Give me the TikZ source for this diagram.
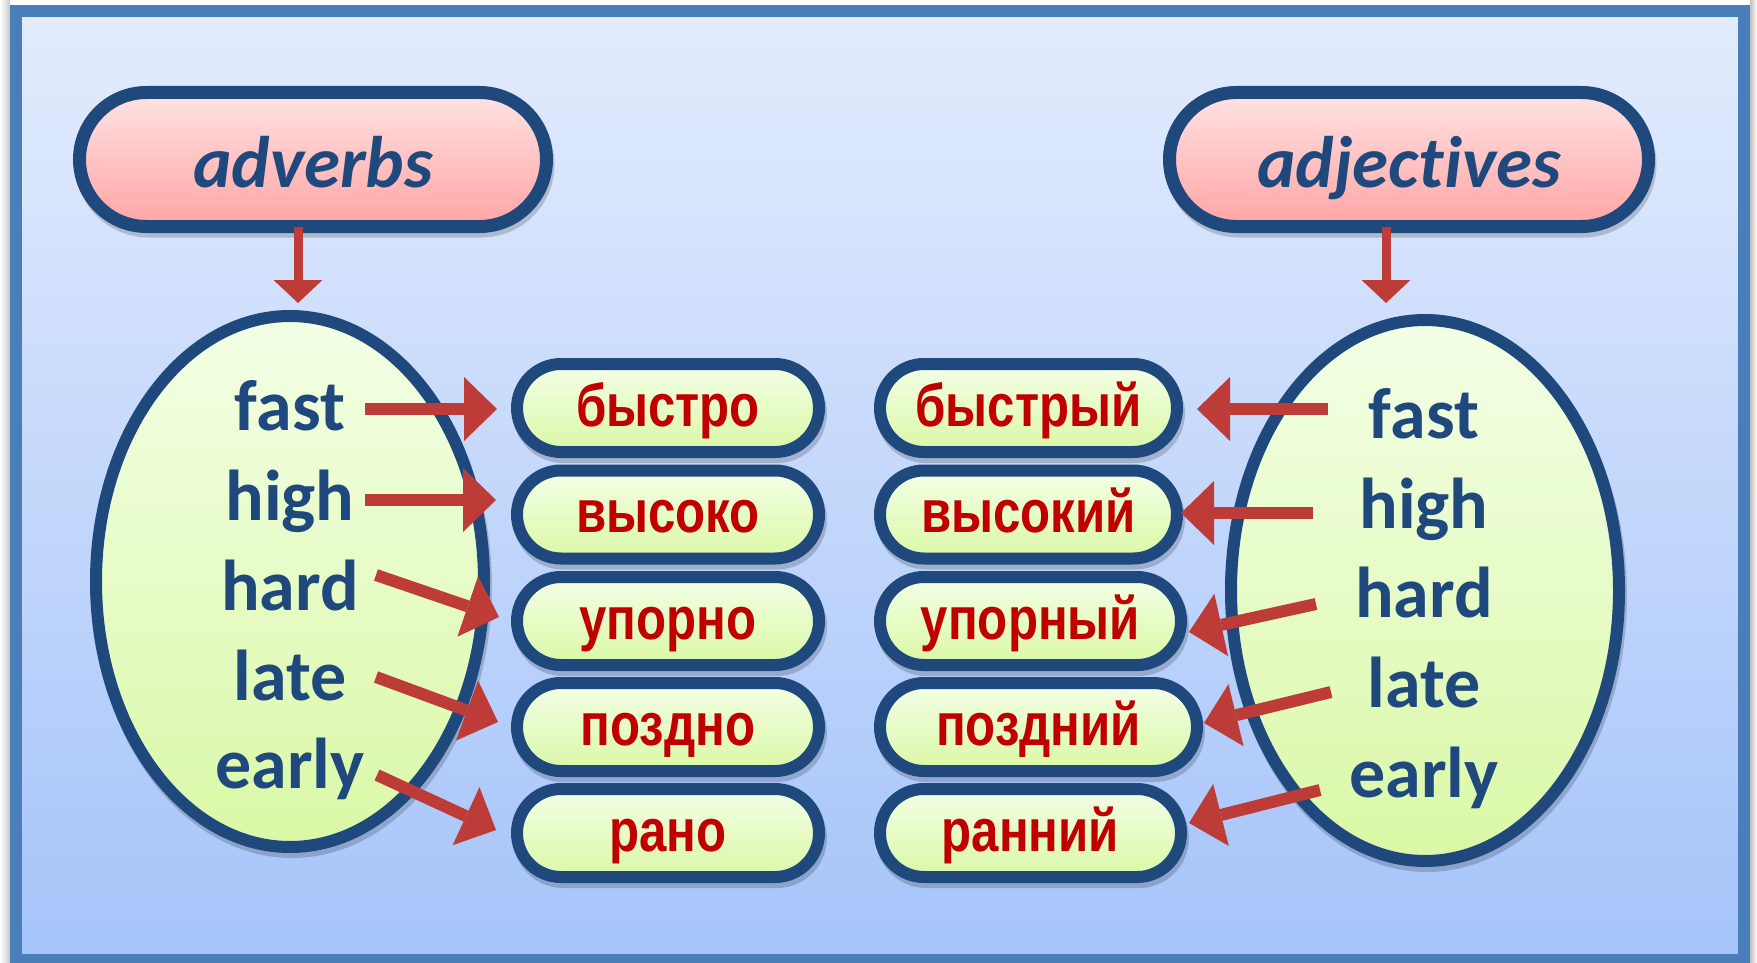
\documentclass[tikz,border=0pt]{standalone}
\usepackage{fontspec}
\setmainfont{Carlito}[Ligatures=NoCommon]
\newfontfamily\rufont[FakeStretch=0.82]{Liberation Sans}
\usetikzlibrary{shapes.geometric,shapes.misc,arrows.meta,calc,shadows}
\definecolor{navy}{HTML}{1F497D}
\definecolor{framec}{HTML}{4A7EBB}
\definecolor{bgtop}{HTML}{E3ECFD}
\definecolor{bgbot}{HTML}{A5C4FA}
\definecolor{pinktop}{HTML}{FFE3E3}
\definecolor{pinkbot}{HTML}{FFA4A4}
\definecolor{greentop}{HTML}{F3FFE6}
\definecolor{greenbot}{HTML}{DAF8A6}
\definecolor{arrowred}{HTML}{BE3C37}
\definecolor{rutext}{HTML}{C00000}
\begin{document}
\begin{tikzpicture}[x=0.5pt,y=-0.5pt,
  frame/.style={draw=framec, line width=6pt, top color=bgtop, bottom color=bgbot},
  shad/.style={drop shadow={shadow xshift=1pt, shadow yshift=-2.5pt, opacity=0.18, fill=black, draw=black, line width=6pt}},
  header/.style={shape=rounded rectangle, draw=navy, line width=6.5pt, top color=pinktop, bottom color=pinkbot,
     minimum height=67pt, inner sep=0pt, font=\fontsize{36.5}{40}\selectfont\bfseries\itshape, text=navy,
     text height=30pt, text depth=2.5pt, shad},
  oval/.style={shape=ellipse, draw=navy, line width=6pt, top color=greentop, bottom color=greenbot,
     inner sep=0pt, minimum width=194pt, shad},
  word/.style={anchor=base, inner sep=0pt, font=\fontsize{36}{40}\selectfont\bfseries, text=navy},
  rupill/.style={shape=rounded rectangle, draw=navy, line width=6pt, top color=greentop, bottom color=greenbot,
     minimum height=44pt, inner sep=0pt, font=\rufont\bfseries\fontsize{30}{34}\selectfont, text=rutext,
     text height=20pt, text depth=2pt, shad},
  bigarrow/.style={draw=arrowred, line width=6pt, -{Triangle[length=16.5pt, width=32pt, line width=0pt]}},
  downarrow/.style={draw=arrowred, line width=4.5pt, -{Triangle[length=11.5pt, width=24.5pt, line width=0pt]}},
]
\useasboundingbox (0,0) rectangle (1757,963);
% outer shadow strips and frame
\shade[left color=white, right color=black!22] (0,0) rectangle (10,963);
\shade[left color=black!25, right color=white] (1750,0) rectangle (1757,963);
\path[frame] (16,11) rectangle (1744,960);

% headers
\node[header, minimum width=233.5pt] (adv) at (313,159.5) {adverbs};
\node[header, minimum width=239.5pt] (adj) at (1409,159.5) {adjectives};

% ellipses
\node[oval, minimum height=265.5pt] (ellL) at (290,581.5) {};
\node[oval, minimum height=270.5pt] (ellR) at (1425,590.5) {};

% english words
\node[word] (L1) at (290,430) {fast};
\node[word] (L2) at (290,520) {high};
\node[word] (L3) at (290,610) {hard};
\node[word] (L4) at (290,700) {late};
\node[word] (L5) at (290,788) {early};
\node[word] (R1) at (1424,438) {fast};
\node[word] (R2) at (1424,528) {high};
\node[word] (R3) at (1424,617) {hard};
\node[word] (R4) at (1424,707) {late};
\node[word] (R5) at (1424,797) {early};

% russian pills
\node[rupill, minimum width=151pt] (A1) at (668,408) {быстро};
\node[rupill, minimum width=151pt] (A2) at (668,514.5) {высоко};
\node[rupill, minimum width=151pt] (A3) at (668,621) {упорно};
\node[rupill, minimum width=151pt] (A4) at (668,727) {поздно};
\node[rupill, minimum width=151pt] (A5) at (668,833) {рано};
\node[rupill, minimum width=148.5pt] (B1) at (1028.5,408) {быстрый};
\node[rupill, minimum width=148.5pt] (B2) at (1028.5,514.5) {высокий};
\node[rupill, minimum width=150.5pt] (B3) at (1030.5,621) {упорный};
\node[rupill, minimum width=158.5pt] (B4) at (1038.5,727) {поздний};
\node[rupill, minimum width=150.5pt] (B5) at (1030.5,833) {ранний};

% arrow tails
\coordinate (tL1) at (365,409);
\coordinate (tL2) at (365,500);
\coordinate (tL3) at (376,575);
\coordinate (tL4) at (376,677);
\coordinate (tL5) at (377,775);
\coordinate (tR1) at (1328,409);
\coordinate (tR2) at (1313,513);
\coordinate (tR3) at (1316,604);
\coordinate (tR4) at (1331,692);
\coordinate (tR5) at (1320,790);

% arrows
\draw[downarrow] ($(adv.south)+(-15,-6)$) -- ($(ellL.north)+(8,-7)$);
\draw[downarrow] ($(adj.south)+(-23,-6)$) -- ($(ellR.north)+(-39,-11)$);

\draw[bigarrow] (tL1) -- ($(A1.west)+(-14,1)$);
\draw[bigarrow] (tL2) -- ($(A2.west)+(-15,-14.5)$);
\draw[bigarrow] (tL3) -- ($(A3.west)+(-12,-4)$);
\draw[bigarrow] (tL4) -- ($(A4.west)+(-13,-5)$);
\draw[bigarrow] (tL5) -- ($(A5.west)+(-15,-3)$);
\draw[bigarrow] (tR1) -- ($(B1.east)+(14,1)$);
\draw[bigarrow] (tR2) -- ($(B2.east)+(-2,-1.5)$);
\draw[bigarrow] (tR3) -- ($(B3.east)+(2,11)$);
\draw[bigarrow] (tR4) -- ($(B4.east)+(1,-4)$);
\draw[bigarrow] (tR5) -- ($(B5.east)+(2,-10)$);
\end{tikzpicture}
\end{document}
